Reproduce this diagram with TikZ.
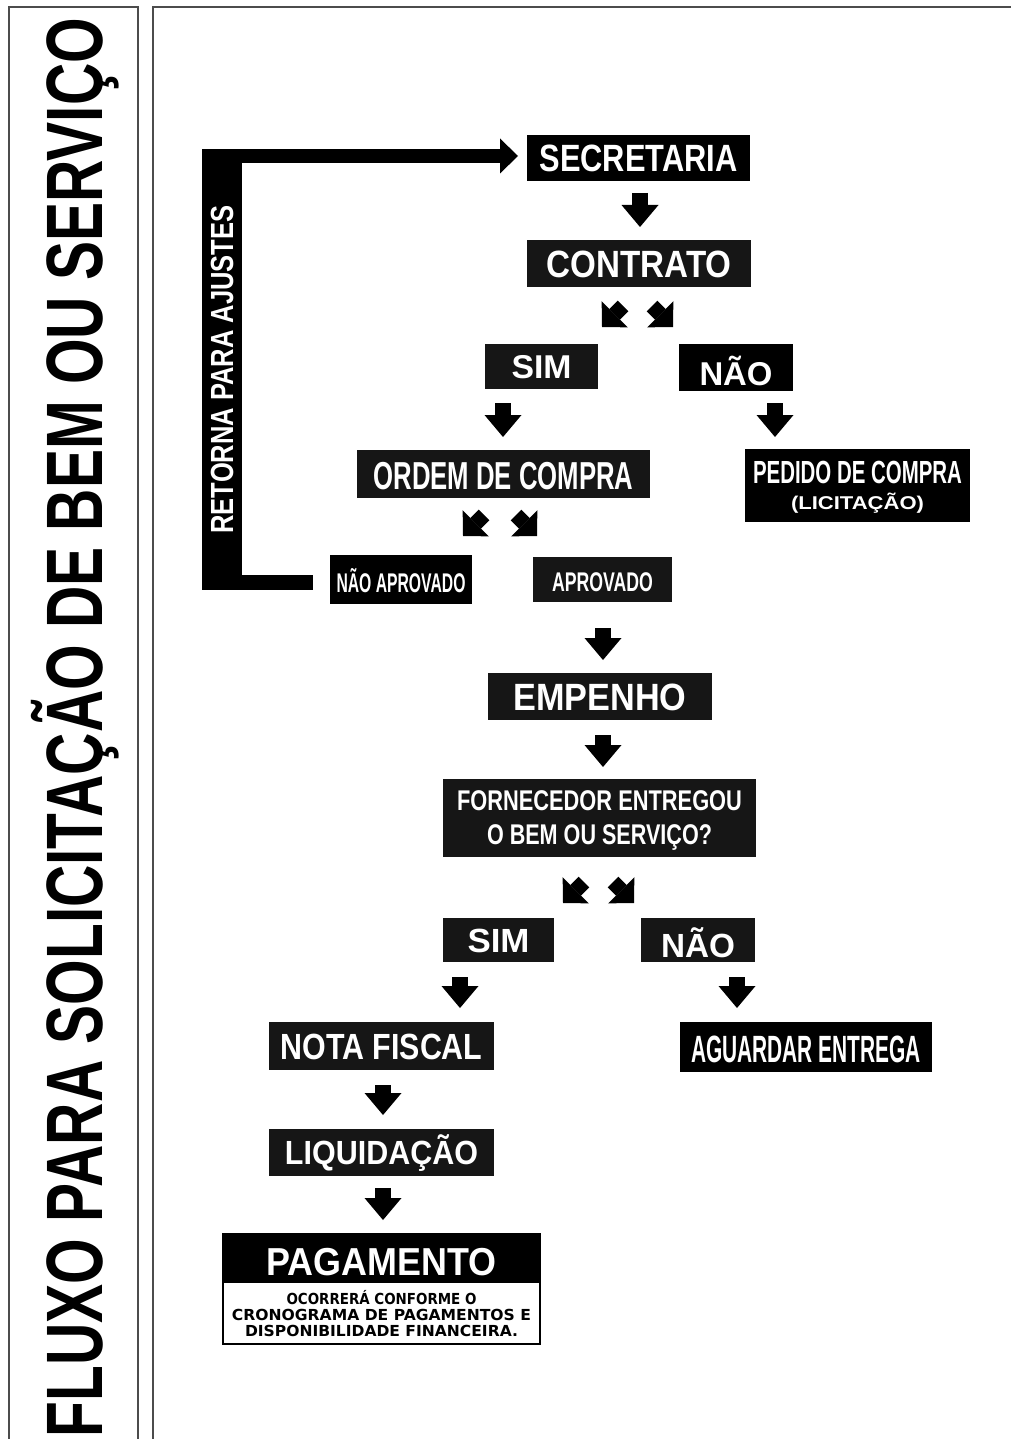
\documentclass[tikz,border=0pt]{standalone}
\usepackage{fontspec}
\setmainfont{Liberation Sans}
\newfontfamily\widefont{DejaVu Sans}
\usetikzlibrary{arrows.meta,calc}
\newcommand{\fitt}[3]{\resizebox{#1pt}{\height}{\fontsize{#2pt}{#2pt}\selectfont\bfseries #3}}
\newcommand{\fittw}[3]{\resizebox{#1pt}{\height}{\widefont\fontsize{#2pt}{#2pt}\selectfont\bfseries #3}}
\definecolor{boxk}{HTML}{161616}
\begin{document}
\begin{tikzpicture}[x=1pt,y=-1pt,
  box/.style={fill=black,text=white,inner sep=0pt,outer sep=0pt,text depth=0pt},
  boxg/.style={box,fill=boxk},
  downarr/.style={black,line width=16pt,-{Triangle[length=22pt,width=37pt,line width=0pt]}},
  diagarr/.style={black,line width=15pt,-{Triangle[length=18pt,width=37pt,line width=0pt]}},
  arm/.style={black,line width=14.5pt},
  frame/.style={draw=black!70,line width=1.5pt}]
\useasboundingbox (0,0) rectangle (1010,1439);
\fill[white] (0,0) rectangle (1010,1439);
% frames
\draw[frame] (9,1450) -- (9,7) -- (138,7) -- (138,1450);
\draw[frame] (153,1450) -- (153,7) -- (1020,7);
% title
\node[rotate=90,inner sep=0pt,text height=57pt,text depth=0pt] (title) at (73.5,727.5)
  {\fitt{1419}{80}{FLUXO PARA SOLICITAÇÃO DE BEM OU SERVIÇO}};
% return bar
\node[box,minimum width=40pt,minimum height=441pt] (retorna) at (222,369.5)
  {\rotatebox{90}{\fitt{328}{32}{RETORNA PARA AJUSTES}}};
% boxes
\node[box,minimum width=223pt,minimum height=46pt,text height=27pt] (secretaria) at (638.5,158) {\fitt{198}{38}{SECRETARIA}};
\node[boxg,minimum width=224pt,minimum height=47pt,text height=27pt] (contrato) at (639,263.5) {\fitt{185}{38}{CONTRATO}};
\node[boxg,minimum width=113pt,minimum height=45pt,text height=23.5pt] (sim1) at (541.5,366.5) {\fitt{60}{33}{SIM}};
\node[box,minimum width=114pt,minimum height=47pt,text height=35.5pt] (nao1) at (736,367.5) {\fitt{73}{33}{NÃO}};
\node[boxg,minimum width=293pt,minimum height=48pt,text height=30pt] (ordem) at (503.5,474) {\fitt{260}{39}{ORDEM DE COMPRA}};
\node[box,minimum width=225pt,minimum height=73pt,align=center,font=\fontsize{10pt}{26pt}\selectfont] (pedido) at (857.5,485.5)
  {\fitt{209}{32}{PEDIDO DE COMPRA}\\\fitt{133}{18.5}{(LICITAÇÃO)}};
\node[box,minimum width=142pt,minimum height=49pt,text height=26.5pt] (naoaprov) at (401,579.5) {\fitt{129}{27}{NÃO APROVADO}};
\node[boxg,minimum width=139pt,minimum height=45pt,text height=24.5pt] (aprov) at (602.5,579.5) {\fitt{101}{27}{APROVADO}};
\node[boxg,minimum width=224pt,minimum height=47pt,text height=27pt] (empenho) at (600,696.5) {\fitt{173}{38}{EMPENHO}};
\node[boxg,minimum width=313pt,minimum height=78pt,align=center,font=\fontsize{10pt}{34pt}\selectfont] (fornecedor) at (599.5,818)
  {\fitt{285}{28.5}{FORNECEDOR ENTREGOU}\\\fitt{225}{28.5}{O BEM OU SERVIÇO?}};
\node[boxg,minimum width=111pt,minimum height=44pt,text height=24pt] (sim2) at (498.5,940) {\fitt{62}{33.5}{SIM}};
\node[boxg,minimum width=114pt,minimum height=44pt,text height=34pt] (nao2) at (698,940) {\fitt{74}{33.5}{NÃO}};
\node[boxg,minimum width=225pt,minimum height=48pt,text height=26pt] (nota) at (381.5,1046) {\fitt{202}{36.4}{NOTA FISCAL}};
\node[box,minimum width=252pt,minimum height=50pt,text height=30pt] (aguardar) at (806,1047) {\fitt{230}{38}{AGUARDAR ENTREGA}};
\node[boxg,minimum width=225pt,minimum height=47pt,text height=24pt] (liquid) at (381.5,1152.5) {\fitt{193}{33.5}{LIQUIDAÇÃO}};
% pagamento
\node[draw=black,line width=2pt,fill=white,inner sep=0pt,outer sep=0pt,minimum width=317pt,minimum height=62pt,
  align=center,text depth=0pt,font=\fontsize{10pt}{16pt}\selectfont] (pagbody) at (381.5,1313)
  {\fittw{190}{15.2}{OCORRERÁ CONFORME O}\\\fittw{299}{15.2}{CRONOGRAMA DE PAGAMENTOS E}\\\fittw{273}{15.2}{DISPONIBILIDADE FINANCEIRA.}};
\node[box,minimum width=319pt,minimum height=49pt,text height=35pt] (paghead) at (381.5,1257.5) {\fitt{230}{39}{PAGAMENTO}};
% return arms
\draw[arm,-{Triangle[length=18pt,width=35pt,line width=0pt]}] ($(retorna.north east)+(-1,7)$) -- ($(secretaria.west)+(-9,-2)$);
\draw[arm] ($(retorna.south east)+(-1,-7.5)$) -- ($(naoaprov.west)+(-17,3)$);
% down arrows
\draw[downarr] ($(secretaria.south)+(1.5,12)$) -- ($(contrato.north)+(1,-13)$);
\draw[downarr] ($(sim1.south)+(-38.5,14)$) -- ($(ordem.north)+(-0.5,-13)$);
\draw[downarr] ($(nao1.south)+(39,12)$) -- ($(pedido.north)+(-82.5,-12)$);
\draw[downarr] ($(aprov.south)+(0.5,26)$) -- ($(empenho.north)+(3,-13)$);
\draw[downarr] ($(empenho.south)+(3,15)$) -- ($(fornecedor.north)+(3.5,-12)$);
\draw[downarr] ($(sim2.south)+(-38.5,15)$) -- ($(nota.north)+(78.5,-14)$);
\draw[downarr] ($(nao2.south)+(39,15)$) -- ($(aguardar.north)+(-69,-14)$);
\draw[downarr] ($(nota.south)+(1.5,15)$) -- ($(liquid.north)+(1.5,-14)$);
\draw[downarr] ($(liquid.south)+(1.5,12)$) -- ($(paghead.north)+(1.5,-13)$);
% diagonal arrows
\draw[diagarr] ($(contrato.south)+(-16,19)$) -- ($(contrato.south)+(-37,40)$);
\draw[diagarr] ($(contrato.south)+(13,19)$) -- ($(contrato.south)+(34,40)$);
\draw[diagarr] ($(ordem.south)+(-19.5,17)$) -- ($(ordem.south)+(-40.5,38)$);
\draw[diagarr] ($(ordem.south)+(12.5,17)$) -- ($(ordem.south)+(33.5,38)$);
\draw[diagarr] ($(fornecedor.south)+(-15.5,25)$) -- ($(fornecedor.south)+(-36.5,46)$);
\draw[diagarr] ($(fornecedor.south)+(13.5,25)$) -- ($(fornecedor.south)+(34.5,46)$);
\end{tikzpicture}
\end{document}
